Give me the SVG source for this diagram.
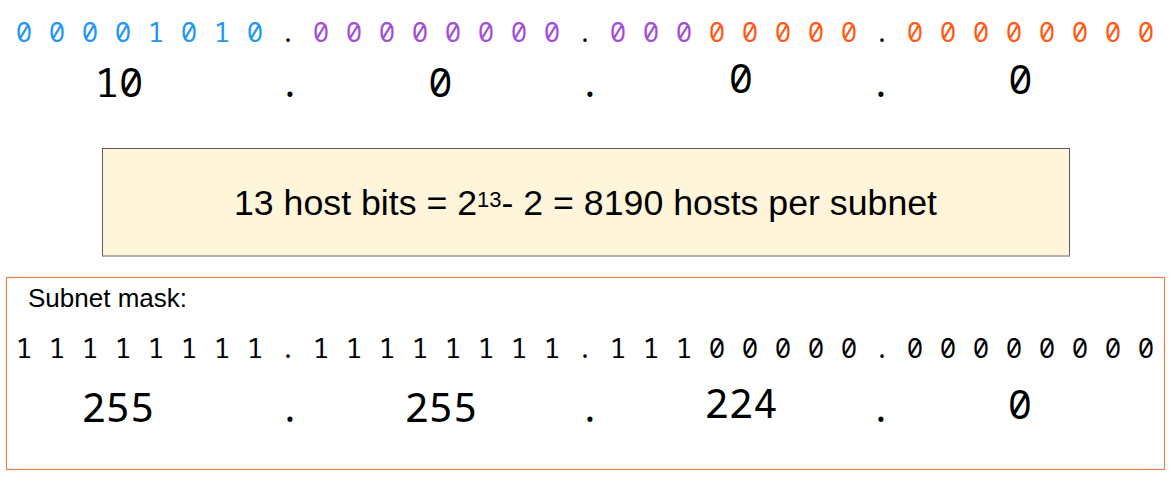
<svg xmlns="http://www.w3.org/2000/svg" width="1174" height="479" viewBox="0 0 1174 479">
<style>
.bin{font-family:"Noto Sans Mono","DejaVu Sans Mono",monospace;font-size:27.4px;text-anchor:middle;fill:#000}
.dec{font-family:"Noto Sans Mono","DejaVu Sans Mono",monospace;font-size:40.5px;text-anchor:middle;fill:#000}
.sans{font-family:"Liberation Sans",Arial,sans-serif;fill:#000}
.blue{fill:#2196f3}
.purple{fill:#a24fd4}
.orange{fill:#ff5a14}
</style>
<rect width="1174" height="479" fill="#fff"/>
<g id="ip-binary">
<text class="bin" y="42"><tspan class="blue" x="24 57 90 123 156 189 222 255">00001010</tspan><tspan x="288">.</tspan><tspan class="purple" x="321 354 387 420 453 486 519 552">00000000</tspan><tspan x="585">.</tspan><tspan class="purple" x="618 651 684">000</tspan><tspan class="orange" x="717 750 783 816 849">00000</tspan><tspan x="882">.</tspan><tspan class="orange" x="915 948 981 1014 1047 1080 1113 1146">00000000</tspan></text>
</g>
<g id="ip-decimal">
<text class="dec" x="119" y="97">10</text>
<text class="dec" x="290" y="97">.</text>
<text class="dec" x="440.5" y="97">0</text>
<text class="dec" x="590" y="97">.</text>
<text class="dec" x="741" y="92.5">0</text>
<text class="dec" x="881" y="97">.</text>
<text class="dec" x="1020.5" y="93.5">0</text>
</g>
<g id="host-box">
<rect x="102.5" y="148.5" width="967" height="107.5" fill="#fff5da" stroke="#5a5a5a" stroke-width="1"/>
<line x1="102.5" y1="256" x2="1069.5" y2="256" stroke="#b4b4b4" stroke-width="1.5"/>
<text class="sans" x="234" y="215" font-size="35.7">13 host bits = 2<tspan font-size="22" dy="-8.5">13</tspan><tspan dy="8.5">- 2 = 8190 hosts per subnet</tspan></text>
</g>
<g id="mask-box">
<rect x="6.5" y="277.5" width="1158" height="192" fill="none" stroke="#e8804a" stroke-width="1.2"/>
<text class="sans" x="28" y="306.5" font-size="26">Subnet mask:</text>
<text class="bin" y="358" x="24 57 90 123 156 189 222 255 288 321 354 387 420 453 486 519 552 585 618 651 684 717 750 783 816 849 882 915 948 981 1014 1047 1080 1113 1146">11111111.11111111.11100000.00000000</text>
<text class="dec" x="118" y="422">255</text>
<text class="dec" x="290" y="422">.</text>
<text class="dec" x="441" y="422">255</text>
<text class="dec" x="590" y="422">.</text>
<text class="dec" x="741" y="418">224</text>
<text class="dec" x="881" y="422">.</text>
<text class="dec" x="1020" y="419">0</text>
</g>
</svg>
